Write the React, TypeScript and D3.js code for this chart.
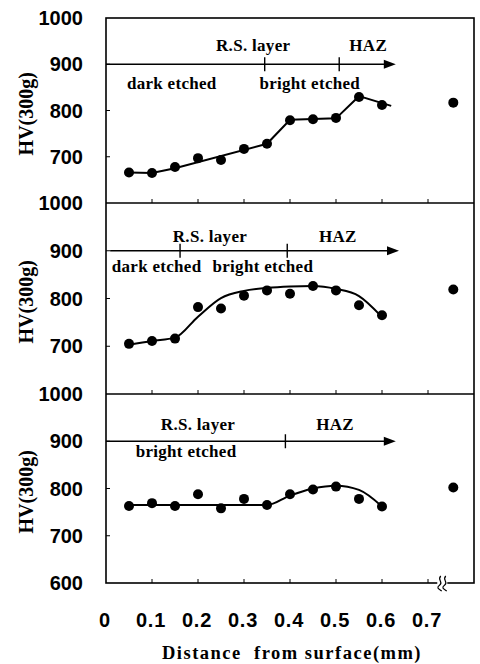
import React from 'react';
import * as d3 from 'd3';

// ---------- data ----------
const xValues = [0.05, 0.1, 0.15, 0.2, 0.25, 0.3, 0.35, 0.4, 0.45, 0.5, 0.55, 0.6, 0.755];
const hv1 = [666, 665, 678, 697, 693, 717, 728, 779, 781, 784, 829, 812, 817];
const hv2 = [705, 711, 716, 782, 779, 806, 817, 810, 826, 817, 786, 765, 819];
const hv3 = [763, 769, 763, 788, 758, 778, 765, 788, 798, 804, 778, 762, 802];

const fit1X = [0.05, 0.1, 0.15, 0.35, 0.4, 0.5, 0.55, 0.62];
const fit1Y = [666, 665, 675, 728, 780, 783, 831, 810];
const fit2X = [0.05, 0.1, 0.15, 0.2, 0.25, 0.3, 0.35, 0.4, 0.45, 0.5, 0.55, 0.597];
const fit2Y = [703, 711, 718, 762, 801, 816, 822, 825, 826, 820, 805, 764];
const fit3X = [0.05, 0.35, 0.4, 0.45, 0.5, 0.55, 0.6];
const fit3Y = [765, 765, 785, 800, 806, 797, 762];

const arrowStart = [0, 0.009, 0];
const arrowEnd = [0.63, 0.637, 0.63];
const arrowLevel = 900;
const arrowTicks1 = [0.345, 0.507];
const arrowTicks2 = [0.161, 0.394];
const arrowTicks3 = [0.39];

const labelText1 = ['R.S. layer', 'HAZ', 'dark etched', 'bright etched'];
const labelX1 = [0.32, 0.57, 0.143, 0.443];
const labelV1 = [929, 929, 846, 846];
const labelText2 = ['R.S. layer', 'HAZ', 'dark etched', 'bright etched'];
const labelX2 = [0.226, 0.504, 0.11, 0.341];
const labelV2 = [919, 919, 855, 855];
const labelText3 = ['R.S. layer', 'HAZ', 'bright etched'];
const labelX3 = [0.2, 0.498, 0.174];
const labelV3 = [924, 924, 866];

const xTicks = [0, 0.1, 0.2, 0.3, 0.4, 0.5, 0.6, 0.7];
const xTickLabels = ['0', '0.1', '0.2', '0.3', '0.4', '0.5', '0.6', '0.7'];
const yTicksUpper = [1000, 900, 800, 700];
const yTicksLower = [1000, 900, 800, 700, 600];
const yTitle = 'HV(300g)';
const xTitle = 'Distance  from surface(mm)';
const breakAt = 0.731;

// ---------- layout ----------
const W = 480, H = 664;
const left = 106, right = 474;
const panelTops = [18, 203, 394];
const panelBottoms = [203, 394, 583];

const x = d3.scaleLinear().domain([0, 0.8]).range([left, right]);

const serif = '"Liberation Serif", "Times New Roman", serif';
const sans = '"Liberation Sans", Arial, sans-serif';

type Panel = {
  hv: number[]; fx: number[]; fy: number[]; curve: any;
  aStart: number; aEnd: number; aTicks: number[];
  lt: string[]; lx: number[]; lv: number[]; yTicks: number[];
};

const panels: Panel[] = [
  { hv: hv1, fx: fit1X, fy: fit1Y, curve: d3.curveLinear, aStart: arrowStart[0], aEnd: arrowEnd[0], aTicks: arrowTicks1, lt: labelText1, lx: labelX1, lv: labelV1, yTicks: yTicksUpper },
  { hv: hv2, fx: fit2X, fy: fit2Y, curve: d3.curveMonotoneX, aStart: arrowStart[1], aEnd: arrowEnd[1], aTicks: arrowTicks2, lt: labelText2, lx: labelX2, lv: labelV2, yTicks: yTicksUpper },
  { hv: hv3, fx: fit3X, fy: fit3Y, curve: d3.curveMonotoneX, aStart: arrowStart[2], aEnd: arrowEnd[2], aTicks: arrowTicks3, lt: labelText3, lx: labelX3, lv: labelV3, yTicks: yTicksLower },
];

export default function App() {
  return (
    <svg width={W} height={H} style={{ position: 'absolute', left: 0, top: 0, background: '#fff' }}>
      <rect x={0} y={0} width={W} height={H} fill="#fff" />
      {panels.map((p, i) => {
        const y = d3.scaleLinear().domain([600, 1000]).range([panelBottoms[i], panelTops[i]]);
        const line = d3.line<number>().x((d, k) => x(p.fx[k])).y((d) => y(d)).curve(p.curve);
        const ay = y(arrowLevel);
        const ax2 = x(p.aEnd);
        return (
          <g key={i}>
            {p.yTicks.map((t) => (
              <text key={t} x={83} y={y(t)} dy="0.36em" textAnchor="end" fontFamily={sans} fontWeight="bold" fontSize={20} fill="#000">{t}</text>
            ))}
            {[900, 800, 700].map((t) => (
              <line key={t} x1={left} x2={left + 4} y1={y(t)} y2={y(t)} stroke="#000" strokeWidth={1} />
            ))}
            {xTicks.slice(1).map((t) => (
              <line key={t} x1={x(t)} x2={x(t)} y1={panelBottoms[i]} y2={panelBottoms[i] - 4} stroke="#000" strokeWidth={1} />
            ))}
            <text transform={`translate(33,${y(793)}) rotate(-90)`} textAnchor="middle" fontFamily={serif} fontWeight="bold" fontSize={20} fill="#000">{yTitle}</text>
            <line x1={x(p.aStart)} x2={ax2 - 8} y1={ay} y2={ay} stroke="#000" strokeWidth={1.6} />
            <path d={`M${ax2},${ay} L${ax2 - 12},${ay - 4.5} L${ax2 - 12},${ay + 4.5} Z`} fill="#000" />
            {p.aTicks.map((t) => (
              <line key={t} x1={x(t)} x2={x(t)} y1={ay - 7} y2={ay + 7} stroke="#000" strokeWidth={1.4} />
            ))}
            {p.lt.map((s, k) => (
              <text key={k} x={x(p.lx[k])} y={y(p.lv[k])} textAnchor="middle" fontFamily={serif} fontWeight="bold" fontSize={17} letterSpacing={0.3} fill="#000">{s}</text>
            ))}
            <path d={line(p.fy) || ''} fill="none" stroke="#000" strokeWidth={2} />
            {p.hv.map((v, k) => (
              <circle key={k} cx={x(xValues[k])} cy={y(v)} r={5} fill="#000" />
            ))}
          </g>
        );
      })}
      <rect x={left} y={panelTops[0]} width={right - left} height={panelBottoms[2] - panelTops[0]} fill="none" stroke="#000" strokeWidth={1.6} />
      {panelTops.slice(1).map((t) => (
        <line key={t} x1={left} x2={right} y1={t} y2={t} stroke="#000" strokeWidth={1.6} />
      ))}
      <rect x={x(breakAt) - 5} y={panelBottoms[2] - 3} width={10} height={6} fill="#fff" />
      {[-2.5, 2.5].map((o) => {
        const bx = x(breakAt) + o;
        const by = panelBottoms[2];
        return (
          <path key={o} d={`M${bx + 1},${by - 7} C${bx - 3},${by - 3} ${bx + 4},${by - 1} ${bx},${by + 2} S${bx - 1},${by + 6} ${bx + 2},${by + 8}`} fill="none" stroke="#000" strokeWidth={1.2} />
        );
      })}
      {xTicks.map((t, k) => (
        <text key={t} x={x(t) - 1} y={627} textAnchor="middle" fontFamily={sans} fontWeight="bold" fontSize={20} letterSpacing={0.8} fill="#000">{xTickLabels[k]}</text>
      ))}
      <text x={292} y={659} textAnchor="middle" fontFamily={serif} fontWeight="bold" fontSize={18.5} letterSpacing={1.5} fill="#000" style={{ whiteSpace: 'pre' }}>{xTitle}</text>
    </svg>
  );
}
